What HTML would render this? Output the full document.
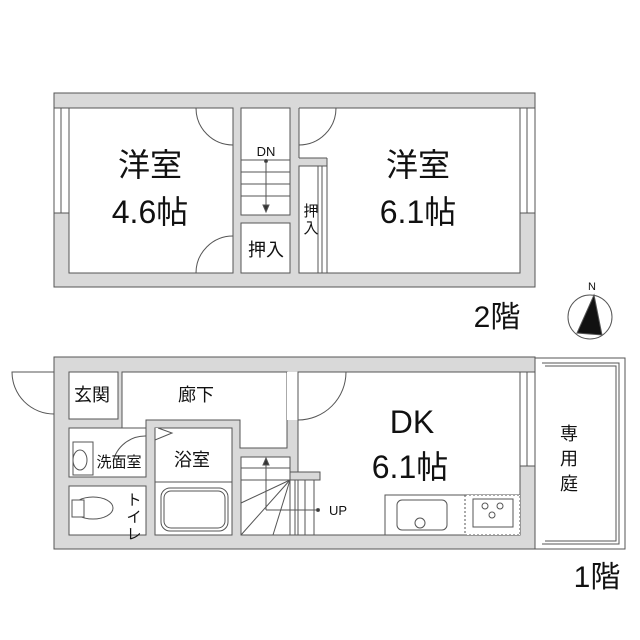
<!DOCTYPE html>
<html><head><meta charset="utf-8"><style>
html,body{margin:0;padding:0;background:#fff;}
svg{display:block}
text{font-family:"Liberation Sans","Noto Sans CJK JP",sans-serif;fill:#111}
</style></head><body>
<svg width="640" height="640" viewBox="0 0 640 640" xmlns="http://www.w3.org/2000/svg">
<g stroke="#555" stroke-width="1">
<!-- 2F -->
<rect x="54" y="93" width="481" height="194" fill="#d9d9d9"/>
<rect x="69" y="108" width="164" height="165" fill="#fff"/>
<rect x="241" y="108" width="49" height="107" fill="#fff"/>
<rect x="241" y="223" width="49" height="50" fill="#fff"/>
<rect x="327" y="108" width="193" height="165" fill="#fff"/>
<rect x="299" y="108" width="29" height="50" fill="#fff" stroke="none"/>
<line x1="299" y1="108" x2="327" y2="108"/>
<line x1="299" y1="108" x2="299" y2="158"/>
<line x1="299" y1="158" x2="327" y2="158"/>
<rect x="299" y="166" width="28" height="107" fill="#fff"/>
<line x1="318" y1="166" x2="318" y2="273"/><line x1="322" y1="166" x2="322" y2="273"/>
<!-- stairs 2F -->
<line x1="241" y1="160" x2="290" y2="160"/><line x1="241" y1="172" x2="290" y2="172"/>
<line x1="241" y1="184" x2="290" y2="184"/><line x1="241" y1="196" x2="290" y2="196"/>
<line x1="266" y1="161" x2="266" y2="206"/>
<path d="M263 205 L266 212 L269 205 Z" fill="#333"/>
<circle cx="266" cy="161" r="1.5" fill="#333"/>
<!-- doors 2F -->
<path d="M233 108 H196 A37 37 0 0 0 233 145" fill="none"/>
<path d="M299 108 H336 A37 37 0 0 1 299 145" fill="none"/>
<path d="M233 273 H196 A37 37 0 0 1 233 236" fill="none"/>
<!-- windows 2F -->
<rect x="54" y="108" width="15" height="105" fill="#fff"/><line x1="61" y1="108" x2="61" y2="213"/>
<rect x="520" y="108" width="15" height="105" fill="#fff"/><line x1="527" y1="108" x2="527" y2="213"/>
<!-- 1F -->
<rect x="54" y="357" width="481" height="192" fill="#d9d9d9"/>
<rect x="69" y="372" width="49" height="47" fill="#fff"/>
<path d="M122 372 H287 V448 H240 V420 H146 V428 H122 Z" fill="#fff"/>
<rect x="69" y="428" width="77" height="49" fill="#fff"/>
<rect x="73" y="442" width="20" height="33" fill="#fff"/>
<rect x="69" y="486" width="77" height="49" fill="#fff"/>
<rect x="155" y="428" width="77" height="107" fill="#fff"/>
<line x1="155" y1="482" x2="232" y2="482"/>
<rect x="161" y="488" width="67" height="43" rx="9" fill="#fff"/>
<rect x="164" y="491" width="61" height="37" rx="7" fill="none"/>
<rect x="241" y="457" width="49" height="78" fill="#fff"/>
<rect x="290" y="480" width="32" height="55" fill="#fff"/>
<rect x="298" y="372" width="222" height="163" fill="#fff"/>
<rect x="287" y="372" width="11" height="48" fill="#fff" stroke="none"/>
<rect x="290" y="472" width="30" height="8" fill="#d9d9d9"/>
<line x1="241" y1="468" x2="290" y2="468"/><line x1="241" y1="480" x2="290" y2="480"/>
<line x1="241" y1="503" x2="290" y2="480"/><line x1="241" y1="535" x2="290" y2="480"/>
<line x1="273" y1="535" x2="290" y2="480"/>
<line x1="295" y1="480" x2="295" y2="535"/><line x1="305" y1="480" x2="305" y2="535"/><line x1="314" y1="480" x2="314" y2="535"/>
<line x1="266" y1="510" x2="318" y2="510"/><line x1="266" y1="510" x2="266" y2="464"/>
<path d="M263 465 L266 458 L269 465 Z" fill="#333"/>
<circle cx="318" cy="510" r="1.5" fill="#333"/>
<!-- doors 1F -->
<path d="M54 372 H12 A42 42 0 0 0 54 414" fill="none"/>
<path d="M298 372 V420 A48 48 0 0 0 346 372" fill="none"/>
<path d="M155 428 V440 L172 433 L158 428" fill="#fff"/>
<path d="M146 436 A33 33 0 0 0 113 462" fill="none"/>
<!-- windows -->
<rect x="520" y="372" width="15" height="94" fill="#fff"/><line x1="527" y1="372" x2="527" y2="466"/>
<!-- kitchen -->
<rect x="385" y="495" width="135" height="40" fill="#fff"/>
<rect x="397" y="500" width="50" height="30" rx="5" fill="none"/>
<circle cx="420" cy="523" r="5" fill="none"/>
<rect x="465" y="495" width="55" height="40" fill="#fff" stroke-dasharray="2,2"/>
<rect x="473" y="499" width="40" height="28" fill="none"/>
<circle cx="485" cy="506" r="3" fill="none"/><circle cx="500" cy="506" r="3" fill="none"/><circle cx="492" cy="515" r="3" fill="none"/>
<!-- toilet -->
<ellipse cx="93" cy="508" rx="20" ry="11" fill="#fff"/>
<rect x="72" y="500" width="12" height="17" fill="#fff"/>
<ellipse cx="80" cy="460" rx="7" ry="10" fill="none"/>
<!-- garden -->
<rect x="535" y="358" width="90" height="191" fill="#fff"/>
<path d="M542 363 H619 V544 H542" fill="none"/>
<path d="M545 366 H616 V541 H545" fill="none"/>
<!-- compass -->
<circle cx="590" cy="317" r="22" fill="#fff"/>
<path d="M594 295 L602 335 L577 333 Z" fill="#111"/>
</g>
<g font-size="32" text-anchor="middle">
<text x="150" y="176">洋室</text><text x="150" y="223">4.6帖</text>
<text x="418" y="176">洋室</text><text x="418" y="223">6.1帖</text>
<text x="412" y="433">DK</text><text x="410" y="478">6.1帖</text>
</g>
<g font-size="18" text-anchor="middle">
<text x="266" y="256">押入</text>
<text x="92" y="401">玄関</text>
<text x="196" y="401">廊下</text>
<text x="192" y="466">浴室</text>
<text x="569" y="440">専</text><text x="569" y="465">用</text><text x="569" y="490">庭</text>
</g>
<g font-size="15" text-anchor="middle">
<text x="119" y="467">洗面室</text>
<text x="134" y="505">ト</text><text x="134" y="522">イ</text><text x="134" y="539">レ</text>
<text x="311" y="216">押</text><text x="311" y="233">入</text>
<text x="266" y="156" font-size="13">DN</text>
<text x="338" y="515" font-size="13">UP</text>
<text x="592" y="290" font-size="11">N</text>
</g>
<text x="497" y="327" font-size="30" text-anchor="middle">2階</text>
<text x="597" y="587" font-size="30" text-anchor="middle">1階</text>
</svg>
</body></html>
